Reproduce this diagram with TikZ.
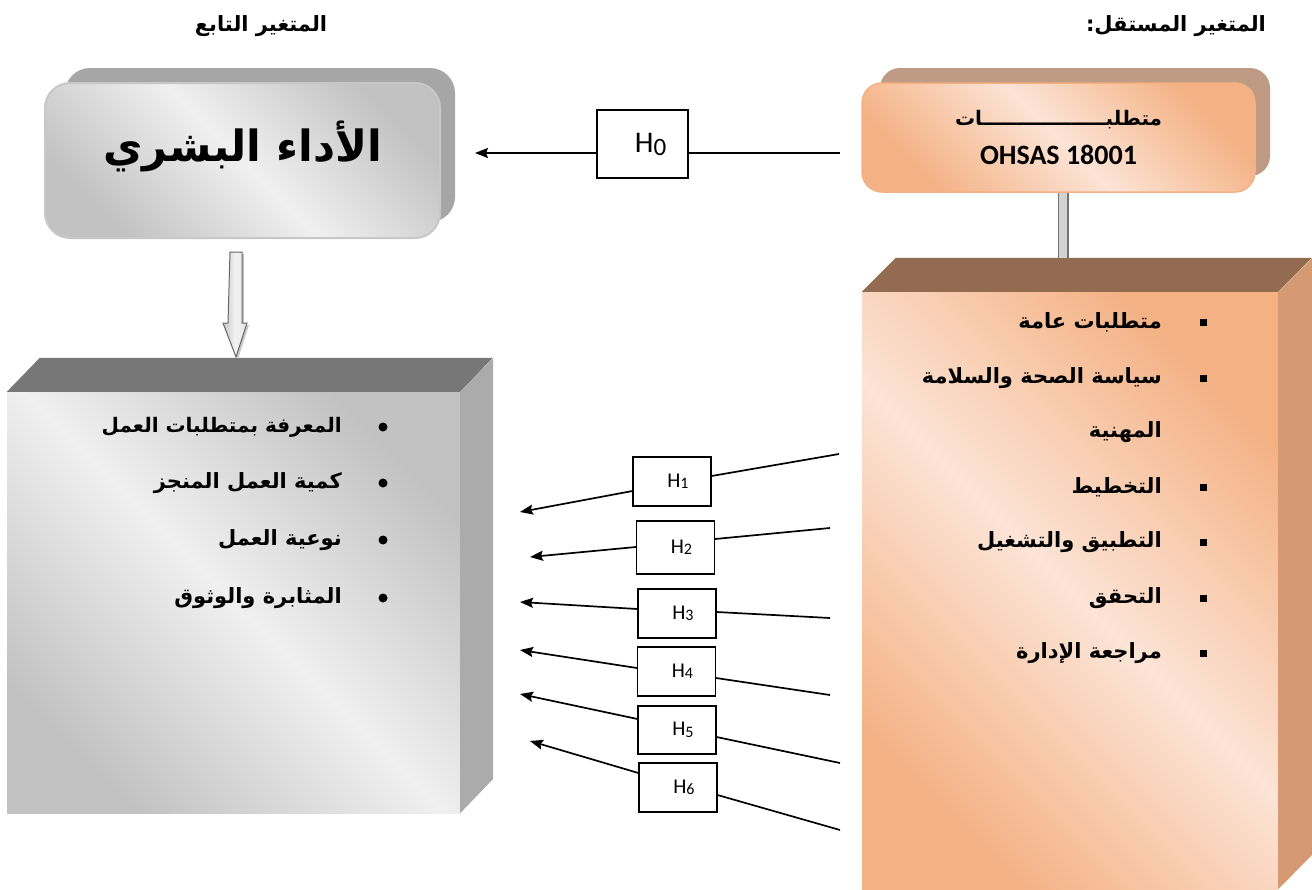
\documentclass[tikz,border=0pt]{standalone}
\usepackage{fontspec}
\setmainfont{Carlito}
\newfontfamily\arabicfont[Script=Arabic]{DejaVu Sans}
\newfontfamily\calib{Carlito}
\TeXXeTstate=1
\usetikzlibrary{arrows.meta,calc}
\definecolor{peach}{HTML}{FCE4D6}
\definecolor{orng}{HTML}{F4B183}
\definecolor{brwntop}{HTML}{936B50}
\definecolor{brwnside}{HTML}{D69A72}
\definecolor{orshadow}{HTML}{C09B83}
\definecolor{gtop}{HTML}{777777}
\definecolor{gside}{HTML}{ABABAB}
\definecolor{glight}{HTML}{F0F0F0}
\definecolor{gdark}{HTML}{C2C2C2}
\definecolor{gshadow}{HTML}{A6A6A6}
\definecolor{gborder}{HTML}{C8C8C8}
\newcommand\hlab[1]{H\raisebox{-1.5pt}{\fontsize{16}{18}\selectfont #1}}
\begin{document}
\begin{tikzpicture}[x=1pt,y=-1pt,
  hdr/.style={font=\arabicfont\bfseries\fontsize{21}{25}\selectfont, inner sep=0pt},
  item/.style={font=\arabicfont\bfseries\fontsize{21}{25}\selectfont, inner sep=0pt, anchor=east},
  sqbullet/.style={fill=black, minimum size=7pt, inner sep=0pt},
  dotbullet/.style={circle, fill=black, minimum size=9pt, inner sep=0pt},
  hyp/.style={draw, line width=1.1pt, fill=white, minimum width=78pt, minimum height=49pt, inner sep=0pt, font=\calib\fontsize{21}{24}\selectfont},
  conn/.style={line width=1.7pt, -{Stealth[length=13pt,width=10pt,inset=2pt]}},
  plainline/.style={line width=1.7pt},
  orshade/.style={top color=orng, bottom color=orng, middle color=peach, shading angle=-45},
  grshade/.style={top color=gdark, bottom color=gdark, middle color=glight, shading angle=-45}]
\useasboundingbox (0,0) rectangle (1312,889);

% headers
\node[hdr] (hdrR) at (1176,26) {\beginR المتغير المستقل:\endR};
\node[hdr] (hdrL) at (261,26) {\beginR المتغير التابع\endR};

% left rounded box (dependent variable)
\fill[gshadow, rounded corners=25pt] (65,68) rectangle (455,222);
\node[draw=gborder, line width=2pt, rounded corners=25pt, minimum width=395pt, minimum height=155pt, grshade,
      font=\arabicfont\bfseries\fontsize{43}{48}\selectfont] (T) at (242.5,160.5) {\raisebox{-1pt}[0pt][0pt]{\beginR الأداء البشري\endR}};

% right rounded box (independent variable)
\fill[orshadow, rounded corners=20pt] (880,68) rectangle (1270,176);
\node[draw=orng, line width=1.5pt, rounded corners=20pt, minimum width=393pt, minimum height=109pt, orshade,
      align=center] (R) at (1058.5,137.5)
  {{\arabicfont\bfseries\fontsize{20}{24}\selectfont\beginR متطلبــــــــــــــــــات\endR}\\[15pt]
   {\calib\bfseries\fontsize{28}{32}\selectfont OHSAS 18001}};

% right 3D box
\node[minimum width=416pt, minimum height=597pt, inner sep=0pt, orshade] (R3) at (1070,590.5) {};
\fill[brwntop] (R3.north west) -- ++(34,-34) -- ++(416,0) -- (R3.north east) -- cycle;
\fill[brwnside] (R3.north east) -- ++(34,-34) -- ++(0,597) -- (R3.south east) -- cycle;
\coordinate (R3top) at (1063,258);

% connector bar between R and R3
\draw[draw=gray!90!black, line width=1.5pt, double=gray!35, double distance=8pt] ([xshift=4.5pt]R.south) -- (R3top);

% left 3D box
\node[minimum width=453pt, minimum height=421pt, inner sep=0pt, grshade] (L3) at (233.5,602.5) {};
\fill[gtop] (L3.north west) -- ++(33,-34) -- ++(453,0) -- (L3.north east) -- cycle;
\fill[gside] (L3.north east) -- ++(33,-34) -- ++(0,421) -- (L3.south east) -- cycle;

% gray block arrow from T to L3
\coordinate (dA) at (236,252);
\coordinate (dB) at (236,357);
\fill[gray!45] ([xshift=2pt,yshift=-2pt]dA) ++(-6,0) -- ++(12,0) -- ++(0,71) -- ++(5,0) -- ([xshift=2pt,yshift=-2pt]dB) -- ++(-13,-34) -- ++(5,0) -- cycle;
\draw[gray!80!black, line width=1pt, left color=gray!45, right color=gray!20, middle color=white!90!gray]
  (dA) ++(-6,0) -- ++(12,0) -- ++(0,71) -- ++(5,0) -- (dB) -- ++(-13,-34) -- ++(5,0) -- cycle;

% right list
\node[sqbullet] (rb1) at (1203,322) {};
\node[item] (r1) at (1162,322) {\beginR متطلبات عامة\endR};
\node[sqbullet] (rb2) at (1203,378) {};
\node[item] (r2) at (1162,378) {\beginR سياسة الصحة والسلامة\endR};
\node[item] (r2b) at (1162,432) {\beginR المهنية\endR};
\node[sqbullet] (rb3) at (1203,487) {};
\node[item] (r3) at (1162,487) {\beginR التخطيط\endR};
\node[sqbullet] (rb4) at (1203,542) {};
\node[item] (r4) at (1162,542) {\beginR التطبيق والتشغيل\endR};
\node[sqbullet] (rb5) at (1203,598) {};
\node[item] (r5) at (1162,598) {\beginR التحقق\endR};
\node[sqbullet] (rb6) at (1203,653) {};
\node[item] (r6) at (1162,653) {\beginR مراجعة الإدارة\endR};

% left list
\node[dotbullet] (lb1) at (383,427) {};
\node[item, font=\arabicfont\bfseries\fontsize{20}{24}\selectfont] (l1) at (342,427) {\beginR المعرفة بمتطلبات العمل\endR};
\node[dotbullet] (lb2) at (383,483) {};
\node[item] (l2) at (342,483) {\beginR كمية العمل المنجز\endR};
\node[dotbullet] (lb3) at (383,540) {};
\node[item] (l3) at (342,540) {\beginR نوعية العمل\endR};
\node[dotbullet] (lb4) at (383,598) {};
\node[item] (l4) at (342,598) {\beginR المثابرة والوثوق\endR};

% H0
\node[hyp, minimum width=91pt, minimum height=68pt, font=\calib\fontsize{30}{34}\selectfont] (H0) at (642.5,144) {\hspace*{16pt}H\raisebox{-3pt}{\fontsize{25}{28}\selectfont 0}};
\coordinate (s0) at (840,153);
\coordinate (t0) at (475,153);
\draw[plainline] (s0) -- ([yshift=-9pt]H0.east);
\draw[conn] ([yshift=-9pt]H0.west) -- (t0);

% H1..H6
\node[hyp] (H1) at (672,481.5) {\hspace*{12pt}\hlab{1}};
\node[hyp, minimum height=53pt] (H2) at (675.5,547.5) {\hspace*{12pt}\hlab{2}};
\node[hyp] (H3) at (677,613.5) {\hspace*{12pt}\hlab{3}};
\node[hyp] (H4) at (676.5,671.5) {\hspace*{12pt}\hlab{4}};
\node[hyp, minimum height=48pt] (H5) at (677,730) {\hspace*{12pt}\hlab{5}};
\node[hyp] (H6) at (678,787.5) {\hspace*{12pt}\hlab{6}};

\coordinate (s1) at (839,454); \coordinate (t1) at (520,512);
\coordinate (s2) at (830,528); \coordinate (t2) at (530,557);
\coordinate (s3) at (830,618); \coordinate (t3) at (520,602);
\coordinate (s4) at (830,695); \coordinate (t4) at (520,650);
\coordinate (s5) at (840,763); \coordinate (t5) at (520,694);
\coordinate (s6) at (840,830); \coordinate (t6) at (530,741);

\draw[plainline] (s1) -- ([yshift=5.5pt]H1.east);  \draw[conn] ([yshift=-9.5pt]H1.west) -- (t1);
\draw[plainline] (s2) -- ([yshift=8.5pt]H2.east);  \draw[conn] ([yshift=0.5pt]H2.west) -- (t2);
\draw[plainline] (s3) -- ([yshift=1.5pt]H3.east);  \draw[conn] ([yshift=4.5pt]H3.west) -- (t3);
\draw[plainline] (s4) -- ([yshift=-6.5pt]H4.east); \draw[conn] ([yshift=3.5pt]H4.west) -- (t4);
\draw[plainline] (s5) -- ([yshift=-7pt]H5.east);   \draw[conn] ([yshift=11pt]H5.west) -- (t5);
\draw[plainline] (s6) -- ([yshift=-7.5pt]H6.east); \draw[conn] ([yshift=14.5pt]H6.west) -- (t6);
\end{tikzpicture}
\end{document}
